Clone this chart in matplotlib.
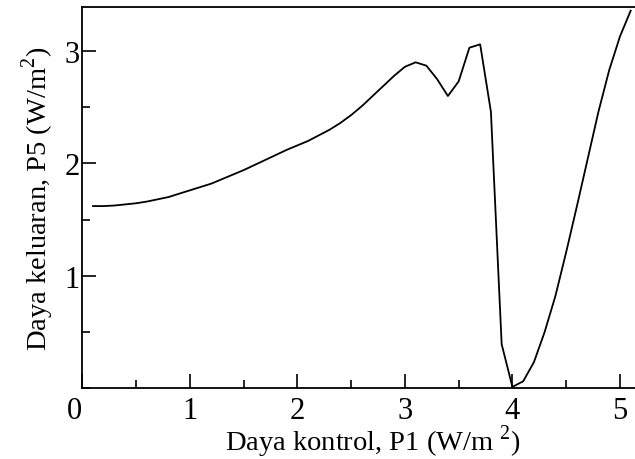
import numpy as np
import matplotlib
matplotlib.use("Agg")
import matplotlib.pyplot as plt
from matplotlib.ticker import MultipleLocator
import matplotlib.transforms as mtransforms

# Control power P1 (W/m^2) and resulting output power P5 (W/m^2)
p1 = [0.1, 0.2, 0.3, 0.4, 0.5, 0.6, 0.7, 0.8, 0.9, 1.0,
      1.1, 1.2, 1.3, 1.4, 1.5, 1.6, 1.7, 1.8, 1.9, 2.0,
      2.1, 2.2, 2.3, 2.4, 2.5, 2.6, 2.7, 2.8, 2.9, 3.0,
      3.1, 3.2, 3.3, 3.4, 3.5, 3.6, 3.7, 3.8, 3.9, 4.0,
      4.1, 4.2, 4.3, 4.4, 4.5, 4.6, 4.7, 4.8, 4.9, 5.0, 5.1]
p5 = [1.62, 1.62, 1.625, 1.635, 1.645, 1.66, 1.68, 1.70, 1.73, 1.76,
      1.79, 1.82, 1.86, 1.90, 1.94, 1.985, 2.03, 2.075, 2.12, 2.16,
      2.20, 2.25, 2.30, 2.36, 2.43, 2.51, 2.60, 2.69, 2.78, 2.86,
      2.90, 2.87, 2.75, 2.60, 2.73, 3.03, 3.06, 2.46, 0.39, 0.01,
      0.06, 0.23, 0.50, 0.82, 1.21, 1.62, 2.04, 2.46, 2.83, 3.13, 3.36]

x_ticks = [0, 1, 2, 3, 4, 5]
x_ticklabels = ["0", "1", "2", "3", "4", "5"]
y_ticks = [1, 2, 3]
y_ticklabels = ["1", "2", "3"]

plt.rcParams["font.family"] = ["Liberation Serif", "DejaVu Serif"]
plt.rcParams["mathtext.fontset"] = "custom"
plt.rcParams["mathtext.rm"] = "Liberation Serif"

fig = plt.figure(figsize=(6.35, 4.6), dpi=100)
ax = fig.add_axes([0.1296, 0.1543, 0.8704, 0.8277])

ax.plot(p1, p5, color="black", linewidth=1.3)

ax.set_xlim(0, 5.14)
ax.set_ylim(0, 3.39)

ax.set_xticks(x_ticks)
ax.set_xticklabels(x_ticklabels)
ax.set_yticks(y_ticks)
ax.set_yticklabels(y_ticklabels)
ax.xaxis.set_minor_locator(MultipleLocator(0.5))
ax.yaxis.set_minor_locator(MultipleLocator(0.5))

ax.tick_params(which="major", direction="in", length=10, width=1.2,
               labelsize=22)
ax.tick_params(axis="x", which="major", pad=6)
ax.tick_params(axis="y", which="major", pad=2)
ax.tick_params(which="minor", direction="in", length=6, width=1.2)
ax.tick_params(top=False, right=False, which="both")

# nudge the origin label a little to the left
offset = mtransforms.ScaledTranslation(-8 / 100, 0, fig.dpi_scale_trans)
ax.get_xticklabels()[0].set_transform(ax.get_xticklabels()[0].get_transform() + offset)

for side in ("left", "bottom", "top"):
    ax.spines[side].set_linewidth(1.3)
ax.spines["right"].set_visible(False)

ax.set_xlabel("Daya kontrol, P1 (W/m $^{2}$)", fontsize=20.5, labelpad=-2)
ax.xaxis.label.set_x(0.525)
ax.set_ylabel("Daya keluaran, P5 (W/m$^{2}$)", fontsize=20.5, labelpad=6)

fig.savefig("out.png", dpi=100)
